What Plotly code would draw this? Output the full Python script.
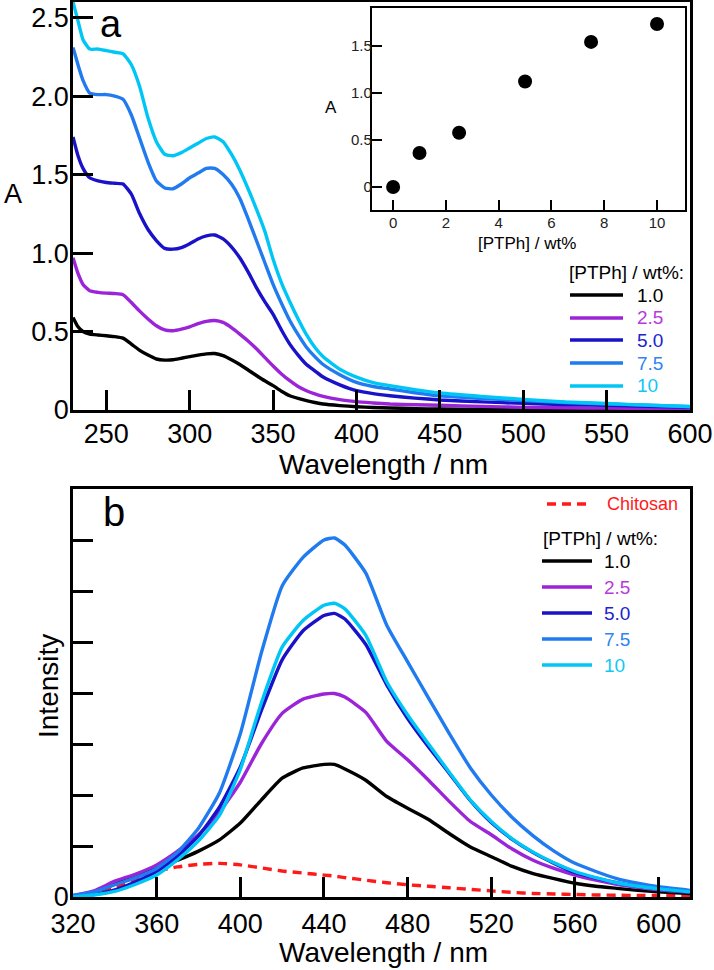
import plotly.graph_objects as go

# ---------------- data ----------------
# Panel a: absorption spectra
wl_a = [230, 233, 236, 240, 245, 250, 255, 260, 265, 270, 275, 280, 285, 290, 295, 300, 305, 310, 315,
        320, 325, 330, 335, 340, 345, 350, 355, 360, 365, 370, 375, 380, 390, 400, 410, 420, 435, 450,
        475, 500, 525, 550, 575, 600]
abs_10 = [2.60, 2.48, 2.36, 2.30, 2.30, 2.29, 2.28, 2.27, 2.20, 2.06, 1.86, 1.71, 1.63, 1.62, 1.64, 1.67, 1.70, 1.73, 1.74,
          1.71, 1.63, 1.53, 1.41, 1.28, 1.14, 0.96, 0.81, 0.69, 0.58, 0.48, 0.40, 0.34, 0.26, 0.21, 0.175, 0.155, 0.13, 0.108,
          0.086, 0.068, 0.051, 0.041, 0.031, 0.022]
abs_75 = [2.31, 2.20, 2.10, 2.02, 2.01, 2.01, 2.00, 1.98, 1.88, 1.73, 1.58, 1.46, 1.415, 1.41, 1.44, 1.48, 1.51, 1.54, 1.54,
          1.50, 1.44, 1.35, 1.22, 1.08, 0.94, 0.80, 0.68, 0.57, 0.48, 0.40, 0.34, 0.29, 0.225, 0.176, 0.15, 0.134, 0.11, 0.09,
          0.074, 0.06, 0.048, 0.038, 0.03, 0.021]
abs_50 = [1.74, 1.62, 1.54, 1.48, 1.46, 1.45, 1.445, 1.44, 1.375, 1.25, 1.15, 1.08, 1.03, 1.025, 1.035, 1.06, 1.09, 1.11, 1.115,
          1.09, 1.04, 0.97, 0.88, 0.78, 0.69, 0.61, 0.51, 0.42, 0.35, 0.29, 0.25, 0.21, 0.16, 0.123, 0.104, 0.091, 0.076, 0.064,
          0.052, 0.042, 0.035, 0.03, 0.023, 0.017]
abs_25 = [0.97, 0.87, 0.80, 0.76, 0.75, 0.745, 0.742, 0.735, 0.685, 0.63, 0.58, 0.537, 0.51, 0.505, 0.515, 0.53, 0.55, 0.565, 0.57,
          0.558, 0.525, 0.484, 0.44, 0.39, 0.335, 0.28, 0.23, 0.187, 0.15, 0.123, 0.103, 0.087, 0.066, 0.053, 0.045, 0.038, 0.033, 0.03,
          0.023, 0.017, 0.014, 0.012, 0.011, 0.01]
abs_10w = [0.59, 0.53, 0.50, 0.484, 0.478, 0.473, 0.468, 0.458, 0.42, 0.38, 0.35, 0.325, 0.318, 0.32, 0.33, 0.34, 0.35, 0.358, 0.36,
           0.346, 0.32, 0.29, 0.255, 0.22, 0.186, 0.155, 0.12, 0.091, 0.074, 0.06, 0.048, 0.038, 0.028, 0.021, 0.016, 0.013, 0.009, 0.006,
           0.005, 0.004, 0.004, 0.004, 0.004, 0.004]

# Inset: absorbance vs concentration
conc = [0, 1.0, 2.5, 5.0, 7.5, 10]
abs_peak = [0.0, 0.36, 0.575, 1.12, 1.54, 1.73]

# Panel b: emission spectra
wl_b = [320, 330, 340, 350, 360, 370, 380, 390, 400, 410, 420, 430, 440, 445, 450, 460, 470, 480, 490, 500,
        510, 520, 530, 540, 550, 560, 570, 580, 590, 600, 615]
em_75 = [0.03, 0.10, 0.24, 0.38, 0.56, 0.88, 1.35, 2.04, 3.2, 4.78, 6.1, 6.66, 7.0, 7.04, 6.9, 6.35, 5.33, 4.61, 3.9, 3.2,
         2.53, 2.0, 1.56, 1.2, 0.9, 0.66, 0.5, 0.36, 0.27, 0.2, 0.13]
em_10 = [0.0, 0.04, 0.11, 0.25, 0.43, 0.73, 1.1, 1.6, 2.5, 3.8, 4.9, 5.42, 5.72, 5.76, 5.65, 5.13, 4.22, 3.57, 3.0, 2.44,
         1.9, 1.48, 1.14, 0.88, 0.67, 0.5, 0.38, 0.28, 0.21, 0.16, 0.1]
em_50 = [0.0, 0.05, 0.14, 0.3, 0.5, 0.8, 1.2, 1.76, 2.55, 3.65, 4.65, 5.22, 5.52, 5.56, 5.45, 4.95, 4.16, 3.5, 2.94, 2.42,
         1.89, 1.46, 1.13, 0.87, 0.66, 0.48, 0.37, 0.28, 0.21, 0.16, 0.09]
em_25 = [0.03, 0.12, 0.31, 0.45, 0.63, 0.9, 1.22, 1.66, 2.25, 3.0, 3.6, 3.88, 3.98, 3.99, 3.92, 3.62, 3.05, 2.69, 2.29, 1.87,
         1.48, 1.22, 0.94, 0.72, 0.56, 0.43, 0.33, 0.25, 0.19, 0.14, 0.09]
em_10w = [0.01, 0.10, 0.25, 0.4, 0.56, 0.72, 0.9, 1.12, 1.45, 1.9, 2.33, 2.53, 2.6, 2.6, 2.51, 2.29, 1.97, 1.74, 1.52, 1.24,
          0.98, 0.79, 0.6, 0.46, 0.36, 0.27, 0.21, 0.17, 0.13, 0.1, 0.07]
em_chitosan = [0.0, 0.07, 0.18, 0.33, 0.5, 0.59, 0.64, 0.66, 0.63, 0.57, 0.51, 0.47, 0.43, 0.41, 0.38, 0.33, 0.28, 0.24, 0.21, 0.18,
               0.15, 0.12, 0.09, 0.07, 0.06, 0.05, 0.04, 0.035, 0.03, 0.03, 0.02]

series_labels = ["1.0", "2.5", "5.0", "7.5", "10"]
line_colors = ["#000000", "#9B24D9", "#1A12C8", "#1F7BEF", "#00C6F5"]
text_colors = ["#000000", "#B93ADB", "#2222CC", "#2F84F0", "#10C8F5"]
chitosan_color = "#FF1A1A"

a_ticks = [0, 0.5, 1.0, 1.5, 2.0, 2.5]
a_ticktext = ["0", "0.5", "1.0", "1.5", "2.0", "2.5"]
a_xticks = [250, 300, 350, 400, 450, 500, 550, 600]
b_xticks = [320, 360, 400, 440, 480, 520, 560, 600]
b_yticks = [0, 1, 2, 3, 4, 5, 6, 7]
b_yticktext = ["0", "", "", "", "", "", "", ""]
in_xticks = [0, 2, 4, 6, 8, 10]
in_yticks = [0, 0.5, 1.0, 1.5]
in_yticktext = ["0", "0.5", "1.0", "1.5"]

# ---------------- figure ----------------
W, H = 714, 970
FONT = "Liberation Sans, Arial, sans-serif"


def PX(x):
    return x / W


def PY(y):
    return 1 - y / H


fig = go.Figure()

abs_series = [abs_10w, abs_25, abs_50, abs_75, abs_10]
em_series = [em_10w, em_25, em_50, em_75, em_10]

for ys, c, n in zip(abs_series, line_colors, series_labels):
    fig.add_trace(go.Scatter(x=wl_a, y=ys, mode="lines", name=n, showlegend=False,
                             line=dict(color=c, width=3.4, shape="spline", smoothing=0.5),
                             xaxis="x", yaxis="y"))

fig.add_trace(go.Scatter(x=wl_b, y=em_chitosan, mode="lines", name="Chitosan", showlegend=False,
                         line=dict(color=chitosan_color, width=3.4, dash="9px,6px", shape="spline", smoothing=0.5),
                         xaxis="x2", yaxis="y2"))
for ys, c, n in zip(em_series, line_colors, series_labels):
    fig.add_trace(go.Scatter(x=wl_b, y=ys, mode="lines", name=n, showlegend=False,
                             line=dict(color=c, width=3.4, shape="spline", smoothing=0.5),
                             xaxis="x2", yaxis="y2"))

fig.add_trace(go.Scatter(x=conc, y=abs_peak, mode="markers", showlegend=False,
                         marker=dict(color="black", size=14),
                         xaxis="x3", yaxis="y3"))

axis_common = dict(showline=True, linecolor="black", linewidth=2.6, mirror=True,
                   ticks="inside", tickcolor="black", tickwidth=2.6, ticklen=20,
                   showgrid=False, zeroline=False, automargin=False,
                   tickfont=dict(family=FONT, size=27, color="black"))

inset_common = dict(showline=True, linecolor="black", linewidth=2.4, mirror=True,
                    ticks="inside", tickcolor="black", tickwidth=2.4, ticklen=10,
                    showgrid=False, zeroline=False, automargin=False,
                    tickfont=dict(family=FONT, size=15, color="#222222"))

dom_x = [PX(73), PX(690)]
fig.update_layout(
    template="none",
    width=W, height=H,
    margin=dict(l=0, r=0, t=0, b=0, pad=0),
    paper_bgcolor="white", plot_bgcolor="white",
    showlegend=False,
    xaxis=dict(axis_common, domain=dom_x, range=[230, 600], tickvals=a_xticks,
               anchor="y", ticklabelstandoff=-2),
    yaxis=dict(axis_common, domain=[PY(410), PY(2)], range=[0, 2.6], tickvals=a_ticks,
               ticktext=a_ticktext, anchor="x", ticklabelstandoff=-4),
    xaxis2=dict(axis_common, domain=dom_x, range=[320, 615], tickvals=b_xticks,
                anchor="y2", ticklabelstandoff=1),
    yaxis2=dict(axis_common, domain=[PY(897), PY(489)], range=[0, 8], tickvals=b_yticks,
                ticktext=b_yticktext, anchor="x2", ticklabelstandoff=-4),
    xaxis3=dict(inset_common, domain=[PX(372), PX(685)], range=[-0.8, 11.06], tickvals=in_xticks,
                anchor="y3", ticklabelstandoff=-2),
    yaxis3=dict(inset_common, domain=[PY(210), PY(8)], range=[-0.245, 1.9], tickvals=in_yticks,
                ticktext=in_yticktext, anchor="x3", ticklabelstandoff=-5),
)

ann = []


def text(x, y, s, size, color="black", xa="center", ya="middle", angle=0):
    ann.append(dict(x=PX(x), y=PY(y), xref="paper", yref="paper", text=s, showarrow=False,
                    xanchor=xa, yanchor=ya, textangle=angle,
                    font=dict(family=FONT, size=size, color=color)))


# axis titles & panel labels
text(13, 194, "A", 27)
text(383, 464, "Wavelength / nm", 28)
text(383, 952, "Wavelength / nm", 28)
text(48, 686, "Intensity", 28, angle=-90)
text(111, 24, "a", 38)
text(114, 512, "b", 40)
text(331, 107, "A", 17)
text(527, 243, "[PTPh] / wt%", 17)

shapes = []


def key(x0, x1, y, color, dash="solid"):
    shapes.append(dict(type="line", xref="paper", yref="paper", x0=PX(x0), x1=PX(x1),
                       y0=PY(y), y1=PY(y), line=dict(color=color, width=3.4, dash=dash)))


# legend panel a
text(567, 272, "[PTPh] / wt%:", 19, xa="left")
rows_a = [295, 318, 340, 363, 386]
for lab, lc, tc, yy in zip(series_labels, line_colors, text_colors, rows_a):
    key(570, 623, yy, lc)
    text(635, yy, lab, 19, color=tc, xa="left")

# legend panel b
key(547, 592, 504, chitosan_color, dash="9px,6px")
text(605, 504, "Chitosan", 18, color=chitosan_color, xa="left")
text(541, 538, "[PTPh] / wt%:", 19, xa="left")
rows_b = [561, 587, 613, 639, 665]
for lab, lc, tc, yy in zip(series_labels, line_colors, text_colors, rows_b):
    key(542, 592, yy, lc)
    text(602, yy, lab, 19, color=tc, xa="left")

fig.update_layout(annotations=ann, shapes=shapes)

fig.write_html("out.html")
